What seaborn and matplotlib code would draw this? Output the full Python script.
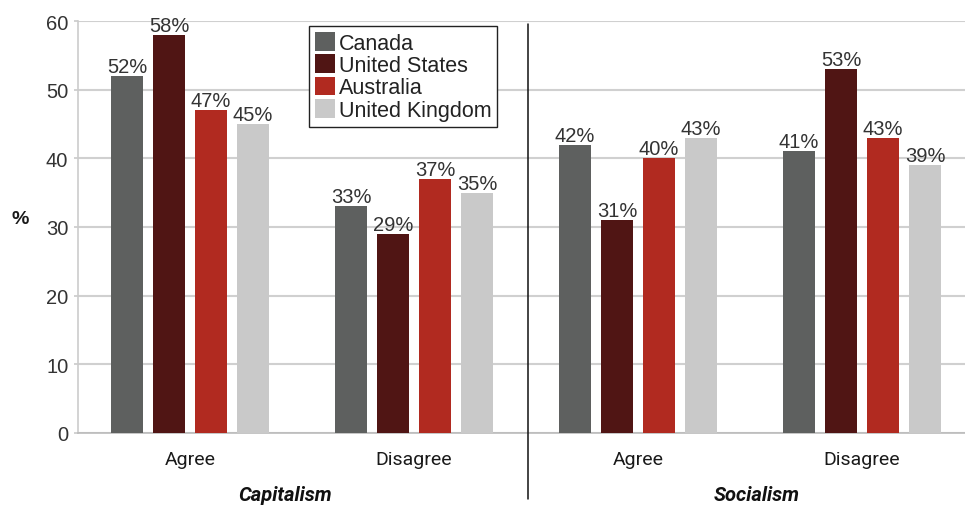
import matplotlib
matplotlib.use("Agg")
import matplotlib.pyplot as plt
import matplotlib.transforms as mtransforms
import seaborn as sns
import pandas as pd

# Survey results (% of respondents)
countries = ["Canada", "United States", "Australia", "United Kingdom"]
groups = ["Capitalism", "Socialism"]
responses = ["Agree", "Disagree"]
cap_agree = [52, 58, 47, 45]
cap_disagree = [33, 29, 37, 35]
soc_agree = [42, 31, 40, 43]
soc_disagree = [41, 53, 43, 39]
tick_labels = ["Agree", "Disagree", "Agree", "Disagree"]
yticks = [0, 10, 20, 30, 40, 50, 60]

palette = ["#5e605f", "#501514", "#b12a20", "#c9c9c9"]

series = {
    "Capitalism Agree": cap_agree,
    "Capitalism Disagree": cap_disagree,
    "Socialism Agree": soc_agree,
    "Socialism Disagree": soc_disagree,
}
rows = []
for key, vals in series.items():
    for c, v in zip(countries, vals):
        rows.append({"slot": key, "country": c, "value": v})
df = pd.DataFrame(rows)
order = list(series.keys())

sns.set_theme(style="white")
plt.rcParams["font.family"] = ["Liberation Sans", "DejaVu Sans"]

fig = plt.figure(figsize=(9.65, 5.10), dpi=100)
ax = fig.add_axes([78 / 965, 1 - 434 / 510, 896 / 965, 412 / 510])

sns.barplot(data=df, x="slot", y="value", hue="country", order=order,
            hue_order=countries, palette=palette, width=0.75, gap=0.24,
            saturation=1, errorbar=None, linewidth=0, ax=ax, zorder=3)

# value labels on top of each bar
for cont in ax.containers:
    ax.bar_label(cont, labels=[f"{int(v)}%" for v in cont.datavalues],
                 padding=0, fontsize=14.5, color="#333333",
                 fontfamily="Liberation Sans")

ax.set_xlim(-0.5, 3.5)
ax.set_ylim(0, 60)
ax.set_yticks(yticks)
ax.set_yticklabels([str(t) for t in yticks], fontsize=14.5, color="#333333")
ax.set_xticks(range(4))
ax.set_xticklabels(tick_labels, fontsize=14, color="#1a1a1a", fontfamily="Roboto")
ax.tick_params(axis="x", length=0, pad=12)
ax.tick_params(axis="y", length=3, color="#cccccc", pad=4, left=True)
ax.set_xlabel("")
ax.set_ylabel("%", rotation=0, fontsize=14, fontweight="bold", color="#1a1a1a",
              labelpad=0)
ax.yaxis.set_label_coords(-0.065, 0.5)

ax.grid(axis="y", color="#d0d0d0", linewidth=1.5, zorder=0)
ax.set_axisbelow(True)
for s in ["top", "right"]:
    ax.spines[s].set_visible(False)
ax.spines["left"].set_color("#cccccc")
ax.spines["left"].set_linewidth(1.2)
ax.spines["bottom"].set_color("#bbbbbb")
ax.spines["bottom"].set_linewidth(1.2)

# divider between the two topics
trans = mtransforms.blended_transform_factory(ax.transData, ax.transAxes)
ax.plot([1.51, 1.51], [-0.16, 0.993], transform=trans, color="#111111",
        linewidth=1.1, clip_on=False, zorder=5)

# topic labels under the response ticks
for xpos, g in zip([0.425, 2.53], groups):
    ax.text(xpos, -0.15, g, transform=trans, ha="center", va="center",
            fontsize=14.5, fontweight="bold", fontstyle="italic",
            fontfamily="Roboto", color="#111111")

leg = ax.legend(loc="upper left", bbox_to_anchor=(309 / 965, 1 - 27 / 510),
                bbox_transform=fig.transFigure, fontsize=15.5, frameon=True,
                fancybox=False, edgecolor="#222222", framealpha=1,
                handlelength=0.95, handleheight=0.95, handletextpad=0.15,
                labelspacing=0.03, borderpad=0.28, borderaxespad=0)
leg.get_frame().set_linewidth(1.0)
for t in leg.get_texts():
    t.set_color("#222222")

fig.savefig("out.png", dpi=100)
